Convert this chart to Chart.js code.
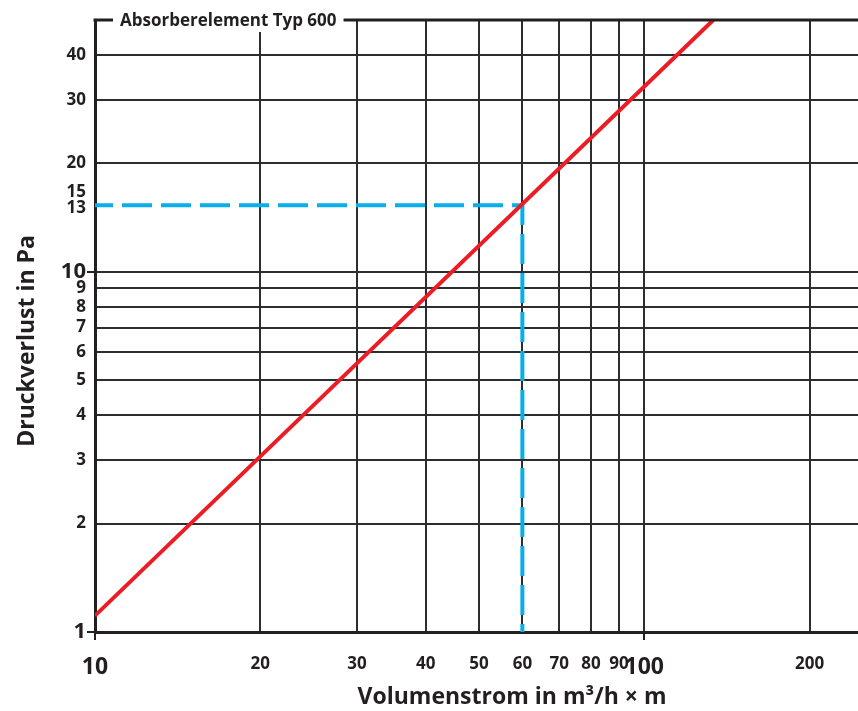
<!DOCTYPE html>
<html>
<head>
<meta charset="utf-8">
<script src="https://cdn.jsdelivr.net/npm/chart.js@4/dist/chart.umd.min.js"></script>
<style>
  html, body { margin: 0; padding: 0; background: #fff; overflow: hidden; }
  #wrap { width: 858px; height: 711px; overflow: hidden; position: relative; }
  canvas { display: block; }
</style>
</head>
<body>
<div id="wrap"><canvas id="c" width="929" height="711"></canvas></div>
<script>
// ---- data ----
const chartTitle = 'Absorberelement Typ 600';
const xAxisTitle = 'Volumenstrom in m³/h × m';
const yAxisTitle = 'Druckverlust in Pa';

// red characteristic line (log-log straight line), endpoints
const flowValues = [10, 133.6];
const pressureValues = [1.11, 50];

// blue dashed reading lines (operating point as drawn in the picture)
const refFlow = [10, 60, 60];
const refPressure = [15.3, 15.3, 1];

// axis ranges
const xMin = 10, xMax = 330;
const yMin = 1, yMax = 50;

// x ticks
const xTickValues = [10, 20, 30, 40, 50, 60, 70, 80, 90, 100, 200];
const xTickLabels = ['10', '20', '30', '40', '50', '60', '70', '80', '90', '100', '200'];
const xBigLabels = [10, 100];
const xTickMarks = [10, 100];
const xNoGrid = [10];

// y ticks (labels "13"/"15" sit where the picture prints them)
const yTickValues = [1, 2, 3, 4, 5, 6, 7, 8, 9, 10, 15.0, 16.6, 20, 30, 40];
const yTickLabels = ['1', '2', '3', '4', '5', '6', '7', '8', '9', '10', '13', '15', '20', '30', '40'];
const yBigLabels = [1, 10];
const yTickMarks = [1, 10];
const yNoGrid = [1, 15.0, 16.6];

// ---- chart ----
const INK = '#231f20';
const GRID = '#2d2d2d';
const FONT = "'Open Sans', 'Noto Sans', sans-serif";

const topFrame = {
  id: 'topFrame',
  afterDraw(chart) {
    const { ctx, chartArea } = chart;
    ctx.save();
    ctx.strokeStyle = INK;
    ctx.lineWidth = 3;
    ctx.beginPath();
    ctx.moveTo(chartArea.left - 1.5, chartArea.top);
    ctx.lineTo(chartArea.right, chartArea.top);
    ctx.stroke();
    ctx.font = "bold 17px " + FONT;
    const tw = ctx.measureText(chartTitle).width;
    const tx = chartArea.left + 25;
    ctx.fillStyle = '#fff';
    ctx.fillRect(tx - 7, 0, tw + 14, chartArea.top + 12);
    ctx.fillStyle = INK;
    ctx.textBaseline = 'middle';
    ctx.fillText(chartTitle, tx, chartArea.top + 1);
    ctx.restore();
  }
};

new Chart(document.getElementById('c'), {
  type: 'line',
  data: {
    datasets: [
      {
        data: flowValues.map((x, i) => ({ x, y: pressureValues[i] })),
        borderColor: '#ec1c24',
        borderWidth: 4,
        pointRadius: 0,
        fill: false,
        order: 1
      },
      {
        data: refFlow.map((x, i) => ({ x, y: refPressure[i] })),
        borderColor: '#0aaee9',
        borderWidth: 4,
        borderDash: [30, 9],
        borderDashOffset: 12,
        pointRadius: 0,
        fill: false,
        order: 2
      }
    ]
  },
  options: {
    responsive: false,
    animation: false,
    layout: { padding: { top: 20, left: 0, right: 0, bottom: 0 } },
    plugins: { legend: { display: false }, tooltip: { enabled: false }, title: { display: false } },
    scales: {
      x: {
        type: 'logarithmic',
        min: xMin, max: xMax,
        afterBuildTicks: (s) => { s.ticks = xTickValues.map(v => ({ value: v })); },
        afterFit: (s) => { s.height = 79; },
        ticks: {
          autoSkip: false, maxRotation: 0, padding: 14,
          color: INK,
          callback: (v) => { const i = xTickValues.indexOf(v); return i >= 0 ? xTickLabels[i] : ''; },
          font: (c) => ({ family: FONT, weight: 'bold', size: c.tick && xBigLabels.includes(c.tick.value) ? 23 : 17 })
        },
        grid: {
          lineWidth: 2,
          color: (c) => (c.tick && xNoGrid.includes(c.tick.value)) ? 'rgba(0,0,0,0)' : GRID,
          tickLength: 8,
          tickWidth: 2,
          tickColor: (c) => (c.tick && xTickMarks.includes(c.tick.value)) ? INK : 'rgba(0,0,0,0)'
        },
        border: { display: true, width: 3, color: INK },
        title: {
          display: true, text: xAxisTitle, color: INK,
          font: { family: FONT, weight: 'bold', size: 23 },
          padding: { top: 0, bottom: 0 }
        }
      },
      y: {
        type: 'logarithmic',
        min: yMin, max: yMax,
        afterBuildTicks: (s) => { s.ticks = yTickValues.map(v => ({ value: v })); },
        afterFit: (s) => { s.width = 95; },
        ticks: {
          autoSkip: false, padding: 1,
          color: INK,
          callback: (v) => { const i = yTickValues.indexOf(v); return i >= 0 ? yTickLabels[i] : ''; },
          font: (c) => ({ family: FONT, weight: 'bold', size: c.tick && yBigLabels.includes(c.tick.value) ? 22 : 17 })
        },
        grid: {
          lineWidth: 2,
          color: (c) => (c.tick && yNoGrid.includes(c.tick.value)) ? 'rgba(0,0,0,0)' : GRID,
          tickLength: 8,
          tickWidth: 2,
          tickColor: (c) => (c.tick && yTickMarks.includes(c.tick.value)) ? INK : 'rgba(0,0,0,0)'
        },
        border: { display: true, width: 3, color: INK },
        title: {
          display: true, text: yAxisTitle + '\u00a0\u00a0\u00a0\u00a0\u00a0', color: INK,
          font: { family: FONT, weight: 'bold', size: 23 },
          padding: { top: 14, bottom: 0 }
        }
      }
    }
  },
  plugins: [topFrame]
});
</script>
</body>
</html>
